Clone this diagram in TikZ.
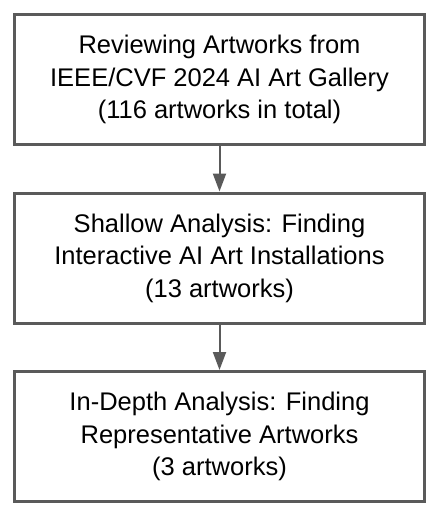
\documentclass[tikz,border=0pt]{standalone}
\usepackage{fontspec}
\setmainfont{Liberation Sans}
\usetikzlibrary{positioning,arrows.meta}
\definecolor{edgegray}{HTML}{5A5A5A}

\begin{document}
\begin{tikzpicture}[
    stage/.style={draw=edgegray, line width=3pt, fill=white, align=center,
        minimum width=410pt, minimum height=130pt, inner sep=0pt,
        font=\fontsize{25.5pt}{32.5pt}\selectfont},
    flow/.style={draw=edgegray, line width=2pt,
        -{Triangle[width=13pt,length=18pt]}}
]
            \useasboundingbox (0,0) rectangle (436pt,-515pt);

            \node[stage] (s1) at (219.5pt,-79.5pt) {Reviewing Artworks from\\IEEE/CVF 2024 AI Art Gallery\\(116 artworks in total)};
            \node[stage, below=45.5pt of s1] (s2) {Shallow Analysis: Finding\\Interactive AI Art Installations\\(13 artworks)};
            \node[stage, below=45.5pt of s2] (s3) {In-Depth Analysis: Finding\\Representative Artworks\\(3 artworks)};

            \draw[flow] (s1) -- (s2);
            \draw[flow] (s2) -- (s3);
\end{tikzpicture}
\end{document}
